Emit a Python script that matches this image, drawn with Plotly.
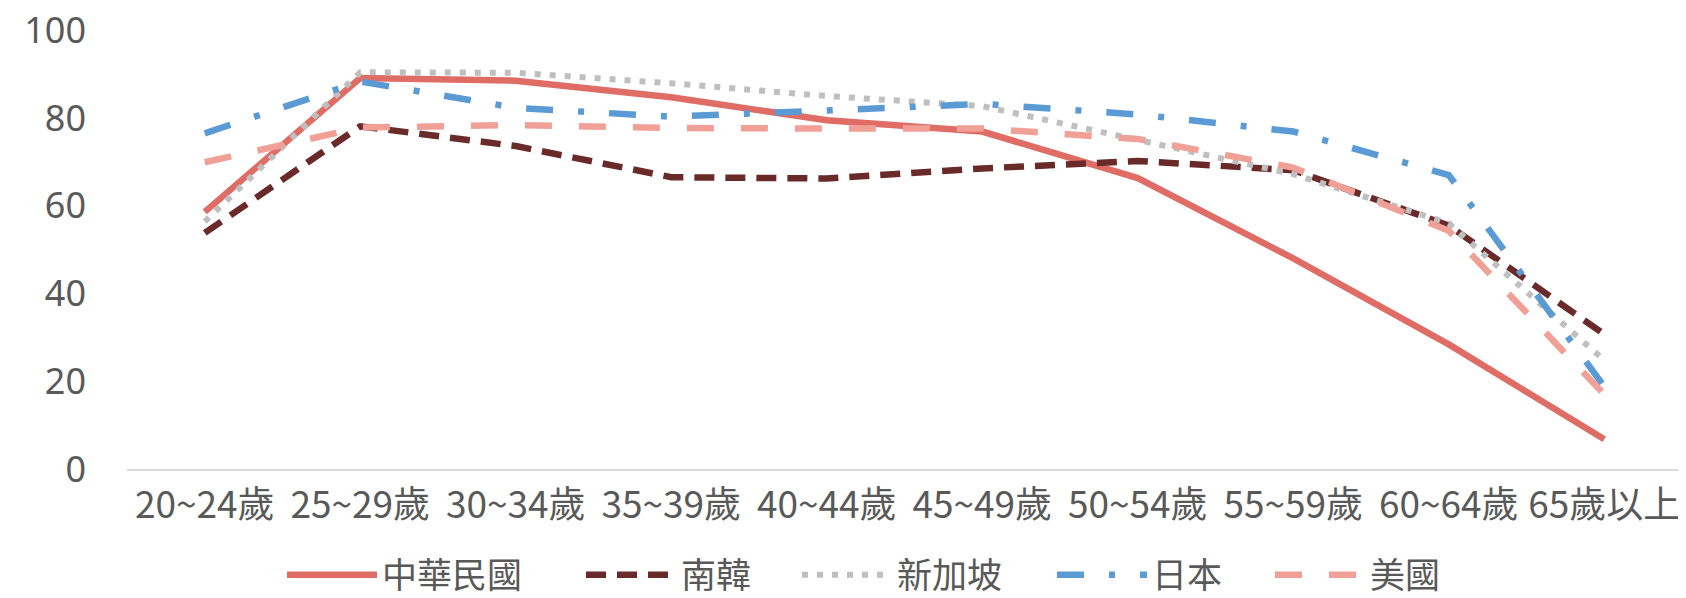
import plotly.graph_objects as go

categories = ["20~24歲", "25~29歲", "30~34歲", "35~39歲", "40~44歲",
              "45~49歲", "50~54歲", "55~59歲", "60~64歲", "65歲以上"]

taiwan = [58.6, 89.1, 88.5, 84.7, 79.5, 76.9, 66.3, 48.0, 28.4, 6.8]
korea = [53.8, 78.1, 73.6, 66.5, 66.2, 68.5, 70.2, 68.1, 55.5, 30.7]
singapore = [56.4, 90.4, 90.3, 87.9, 85.0, 82.7, 75.0, 67.2, 56.0, 24.8]
japan = [76.5, 88.3, 82.3, 80.3, 81.7, 83.2, 80.8, 76.9, 67.0, 18.8]
usa = [69.9, 77.8, 78.4, 77.7, 77.6, 77.6, 75.2, 68.7, 54.3, 17.0]

series_names = ["中華民國", "南韓", "新加坡", "日本", "美國"]

FONT = "Noto Sans CJK TC"
TEXT = "#595959"

styles = [
    dict(color="#E06C66", width=6.5, dash="solid"),
    dict(color="#6B2A2A", width=6.5, dash="20px,11px"),
    dict(color="#BFBFBF", width=6, dash="6px,9px"),
    dict(color="#5B9BD5", width=6.5, dash="27px,25px,6px,25px"),
    dict(color="#F0A096", width=6.5, dash="27px,27px"),
]

# page geometry (the html body adds an 8px margin around the figure div)
OFF = 8
W, H = 1686 - OFF, 598 - OFF
PLOT_L, PLOT_R, PLOT_T, PLOT_B = 127 - OFF, 1682 - OFF, 28 - OFF, 469 - OFF

legend_ids = ["legend", "legend2", "legend3", "legend4", "legend5"]
legend_px = [282, 581, 797, 1052, 1270]  # page x of each legend entry's left edge
legend_center_y = 575  # page y of legend centre

fig = go.Figure()
for name, vals, st, lid in zip(series_names, [taiwan, korea, singapore, japan, usa], styles, legend_ids):
    fig.add_trace(go.Scatter(x=categories, y=vals, name=name, mode="lines",
                             line=st, legend=lid))

plot_h = PLOT_B - PLOT_T
legend_common = dict(orientation="h", xanchor="left",
                     y=(PLOT_B - (legend_center_y - OFF)) / plot_h, yanchor="middle",
                     font=dict(family=FONT, color=TEXT, size=35),
                     itemwidth=90, bgcolor="rgba(0,0,0,0)", borderwidth=0)
layout_legends = {}
for lid, px in zip(legend_ids, legend_px):
    layout_legends[lid] = dict(x=(px - OFF - PLOT_L) / (PLOT_R - PLOT_L), **legend_common)

fig.update_layout(
    width=W, height=H,
    margin=dict(l=PLOT_L, r=W - PLOT_R, t=PLOT_T, b=H - PLOT_B, autoexpand=False),
    paper_bgcolor="white", plot_bgcolor="white",
    font=dict(family=FONT, color=TEXT, size=36),
    showlegend=True,
    **layout_legends,
)
fig.update_xaxes(type="category", range=[-0.5, 9.5], showgrid=False, zeroline=False,
                 showline=True, linecolor="#D9D9D9", linewidth=2, ticks="",
                 ticklabelstandoff=3,
                 tickfont=dict(family=FONT, color=TEXT, size=37))
fig.update_yaxes(range=[0, 100.5], tickvals=[0, 20, 40, 60, 80, 100], showgrid=False,
                 zeroline=False, showline=False, ticks="", ticklabelstandoff=40,
                 ticklabeloverflow="allow",
                 tickfont=dict(family="Noto Sans", color=TEXT, size=36))

fig.write_html("out.html")
